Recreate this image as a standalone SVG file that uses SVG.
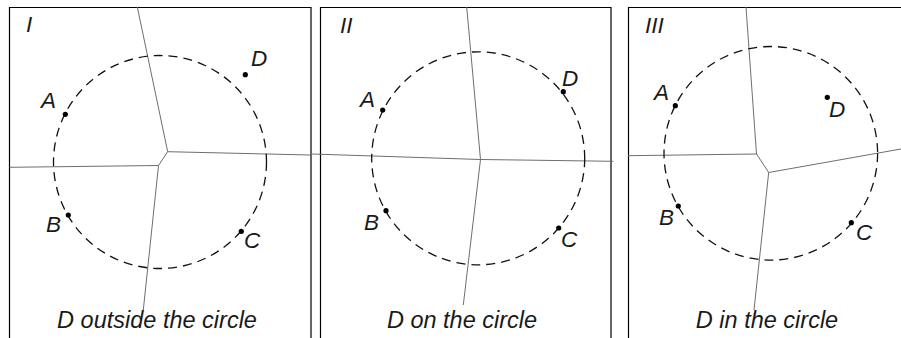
<svg xmlns="http://www.w3.org/2000/svg" width="901" height="338" viewBox="0 0 901 338">
<style>
.frame{fill:none;stroke:#000;stroke-width:1.2}
.circ{fill:none;stroke:#111;stroke-width:1.3;stroke-dasharray:9 6}
.vor{fill:none;stroke:#6e6e6e;stroke-width:1}
.dot{fill:#000}
.lbl{font-family:"Liberation Sans",Arial,sans-serif;font-style:italic;font-size:22.5px;fill:#1a1a1a}
.cap{font-family:"Liberation Sans",Arial,sans-serif;font-style:italic;font-size:23.5px;fill:#1a1a1a;text-anchor:middle}
</style>
<rect width="901" height="338" fill="#fff"/>

<!-- Panel I -->
<g id="panel-I">
  <path class="frame" d="M9.5,345 V7.5 H311 V345"/>
  <text class="lbl" x="26" y="32">I</text>
  <g id="connectors-I">
    <polyline class="vor" points="137.3,7 167.7,151.7 310,155"/>
    <polyline class="vor" points="167.7,151.7 158.5,165.5 9.5,167.3"/>
    <polyline class="vor" points="158.5,165.5 143.3,310"/>
  </g>
  <circle id="circle-I" class="circ" cx="160" cy="162" r="106.5"/>
  <g id="I-A"><circle class="dot" cx="65.3" cy="114.3" r="2.6"/><text class="lbl" x="41" y="108">A</text></g>
  <g id="I-B"><circle class="dot" cx="68.3" cy="215" r="2.6"/><text class="lbl" x="46" y="232">B</text></g>
  <g id="I-C"><circle class="dot" cx="241.3" cy="231.3" r="2.6"/><text class="lbl" x="244" y="248">C</text></g>
  <g id="I-D"><circle class="dot" cx="245.3" cy="74.7" r="2.6"/><text class="lbl" x="251" y="65.5">D</text></g>
  <text class="cap" x="157" y="328">D outside the circle</text>
</g>

<!-- Panel II -->
<g id="panel-II">
  <path class="frame" d="M320.5,345 V7.5 H611 V345"/>
  <text class="lbl" x="340" y="33">II</text>
  <g id="connectors-II">
    <polyline class="vor" points="466.7,7 480.5,159.5 463.3,305"/>
    <polyline class="vor" points="312,154 480.5,159.5 613.3,161.3"/>
  </g>
  <circle id="circle-II" class="circ" cx="478.2" cy="158.3" r="106.5"/>
  <g id="II-A"><circle class="dot" cx="382.7" cy="110" r="2.6"/><text class="lbl" x="360" y="106.5">A</text></g>
  <g id="II-B"><circle class="dot" cx="386" cy="210.7" r="2.6"/><text class="lbl" x="364" y="230">B</text></g>
  <g id="II-C"><circle class="dot" cx="558.7" cy="228" r="2.6"/><text class="lbl" x="561" y="246.5">C</text></g>
  <g id="II-D"><circle class="dot" cx="563.3" cy="91.7" r="2.6"/><text class="lbl" x="562" y="86">D</text></g>
  <text class="cap" x="462" y="328">D on the circle</text>
</g>

<!-- Panel III -->
<g id="panel-III">
  <path class="frame" d="M628.5,345 V7.5 H905"/>
  <text class="lbl" x="645" y="33">III</text>
  <g id="connectors-III">
    <polyline class="vor" points="746,7 756.5,154 628,155.7"/>
    <polyline class="vor" points="756.5,154 768.7,172.5 901,149"/>
    <polyline class="vor" points="768.7,172.5 754,310"/>
  </g>
  <circle id="circle-III" class="circ" cx="770.8" cy="153.3" r="106.8"/>
  <g id="III-A"><circle class="dot" cx="675.3" cy="105.7" r="2.6"/><text class="lbl" x="654" y="100">A</text></g>
  <g id="III-B"><circle class="dot" cx="678.3" cy="206" r="2.6"/><text class="lbl" x="659" y="225">B</text></g>
  <g id="III-C"><circle class="dot" cx="851.3" cy="222.7" r="2.6"/><text class="lbl" x="856" y="240">C</text></g>
  <g id="III-D"><circle class="dot" cx="827.3" cy="97.3" r="2.6"/><text class="lbl" x="829" y="117">D</text></g>
  <text class="cap" x="767" y="328">D in the circle</text>
</g>
</svg>
